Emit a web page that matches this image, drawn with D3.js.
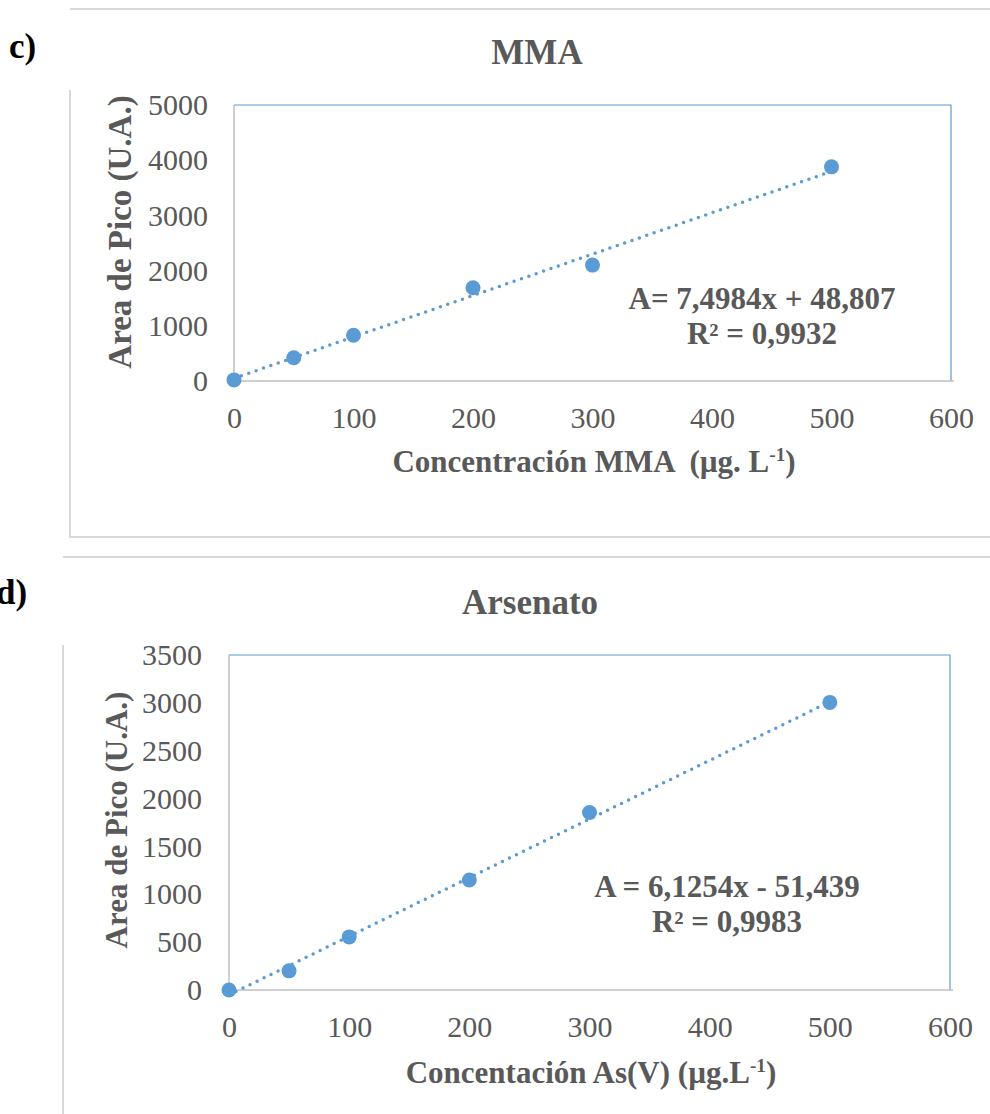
<!DOCTYPE html>
<html><head><meta charset="utf-8">
<script src="https://cdn.jsdelivr.net/npm/d3@7"></script>
<style>body{margin:0;background:#fff;}svg{display:block;}</style>
</head><body>
<script>
// ---- data ----
const mmaConc = [0, 50, 100, 200, 300, 500];
const mmaArea = [20, 420, 830, 1690, 2100, 3880];
const mmaFit = [7.4984, 48.807];
const mmaYTicks = [0, 1000, 2000, 3000, 4000, 5000];
const asConc = [0, 50, 100, 200, 300, 500];
const asArea = [0, 200, 555, 1150, 1855, 3005];
const asFit = [6.1254, -51.439];
const asYTicks = [0, 500, 1000, 1500, 2000, 2500, 3000, 3500];
const xTicks = [0, 100, 200, 300, 400, 500, 600];

const W = 990, H = 1114;
const svg = d3.select("body").append("svg").attr("width", W).attr("height", H);
const serif = "'Liberation Serif','Times New Roman',serif";
const gray = "#595959", blue = "#5B9BD5", axisGray = "#BFBFBF", frame = "#D9D9D9";

function chart(cfg) {
  const g = svg.append("g");
  // frame
  g.append("path").attr("d", cfg.framePath).attr("fill", "none").attr("stroke", frame).attr("stroke-width", 2);
  const x = d3.scaleLinear().domain([0, 600]).range([cfg.l, cfg.r]);
  const y = d3.scaleLinear().domain([0, cfg.ymax]).range([cfg.b, cfg.t]);
  // blue top & right borders
  g.append("path").attr("d", `M${cfg.l},${cfg.t}H${cfg.r}V${cfg.b}`).attr("fill", "none").attr("stroke", blue).attr("stroke-width", 1.2);
  // axes lines
  g.append("line").attr("x1", cfg.l).attr("x2", cfg.l).attr("y1", cfg.t).attr("y2", cfg.b).attr("stroke", axisGray).attr("stroke-width", 1.5);
  g.append("line").attr("x1", cfg.l).attr("x2", cfg.r + 3).attr("y1", cfg.b).attr("y2", cfg.b).attr("stroke", axisGray).attr("stroke-width", 1.5);
  // tick labels via axes
  const ya = g.append("g").attr("transform", `translate(${cfg.l},0)`).call(d3.axisLeft(y).tickValues(cfg.yTicks).tickSize(0).tickPadding(cfg.yPad).tickFormat(d3.format("d")));
  ya.select(".domain").remove();
  ya.selectAll("text").attr("font-family", serif).attr("font-size", 30).attr("fill", gray);
  const xa = g.append("g").attr("transform", `translate(0,${cfg.b})`).call(d3.axisBottom(x).tickValues(xTicks).tickSize(0).tickPadding(26).tickFormat(d3.format("d")));
  xa.select(".domain").remove();
  xa.selectAll("text").attr("font-family", serif).attr("font-size", 30).attr("fill", gray);
  // trendline
  const line = d3.line().x(d => x(d)).y(d => y(cfg.fit[0] * d + cfg.fit[1]));
  g.append("path").attr("d", line([0, 500])).attr("fill", "none").attr("stroke", blue)
    .attr("stroke-width", 3.5).attr("stroke-linecap", "round").attr("stroke-dasharray", "0,7.8");
  // points
  g.selectAll("circle.p").data(cfg.xs).enter().append("circle")
    .attr("cx", d => x(d)).attr("cy", (d, i) => y(cfg.ys[i])).attr("r", 7.5).attr("fill", blue);
  // titles
  g.append("text").attr("x", cfg.titleX).attr("y", cfg.titleY).attr("text-anchor", "middle")
    .attr("font-family", serif).attr("font-weight", "bold").attr("font-size", 35).attr("fill", gray).text(cfg.title);
  g.append("text").attr("transform", `translate(${cfg.yTitleX},${cfg.yTitleY}) rotate(-90)`).attr("text-anchor", "middle")
    .attr("font-family", serif).attr("font-weight", "bold").attr("font-size", cfg.yTitleSize).attr("fill", gray).text("Area de Pico (U.A.)");
  const xt = g.append("text").attr("x", cfg.xTitleX).attr("y", cfg.xTitleY).attr("text-anchor", "middle")
    .attr("font-family", serif).attr("font-weight", "bold").attr("font-size", cfg.xTitleSize).attr("fill", gray).attr("xml:space", "preserve");
  xt.append("tspan").text(cfg.xTitle);
  xt.append("tspan").attr("dy", -11).attr("font-size", cfg.xTitleSize * 0.62).text("-1");
  xt.append("tspan").attr("dy", 11).text(")");
  // equation
  cfg.eq.forEach((s, i) => {
    g.append("text").attr("x", cfg.eqX).attr("y", cfg.eqY + i * 35).attr("text-anchor", "middle")
      .attr("font-family", serif).attr("font-weight", "bold").attr("font-size", 31).attr("fill", gray).text(s);
  });
  // panel label
  g.append("text").attr("x", cfg.labX).attr("y", cfg.labY).attr("font-family", serif).attr("font-weight", "bold")
    .attr("font-size", 35).attr("fill", "#000").text(cfg.label);
}

chart({
  framePath: "M70,90V537H990 M70,9H990",
  l: 234, r: 951, t: 105, b: 381, ymax: 5000, yTicks: mmaYTicks, yPad: 26,
  xs: mmaConc, ys: mmaArea, fit: mmaFit,
  title: "MMA", titleX: 537, titleY: 64,
  yTitleX: 131, yTitleY: 232, yTitleSize: 33,
  xTitle: "Concentración MMA  (µg. L", xTitleX: 594, xTitleY: 472, xTitleSize: 31,
  eq: ["A= 7,4984x + 48,807", "R² = 0,9932"], eqX: 762, eqY: 309,
  label: "c)", labX: 9, labY: 58
});
chart({
  framePath: "M63,645V1114 M63,557H990",
  l: 229, r: 950, t: 655, b: 990, ymax: 3500, yTicks: asYTicks, yPad: 27,
  xs: asConc, ys: asArea, fit: asFit,
  title: "Arsenato", titleX: 530, titleY: 614,
  yTitleX: 127, yTitleY: 820, yTitleSize: 31,
  xTitle: "Concentación As(V) (µg.L", xTitleX: 591, xTitleY: 1083, xTitleSize: 31,
  eq: ["A = 6,1254x - 51,439", "R² = 0,9983"], eqX: 727, eqY: 897,
  label: "d)", labX: -4, labY: 604
});
</script>
</body></html>
